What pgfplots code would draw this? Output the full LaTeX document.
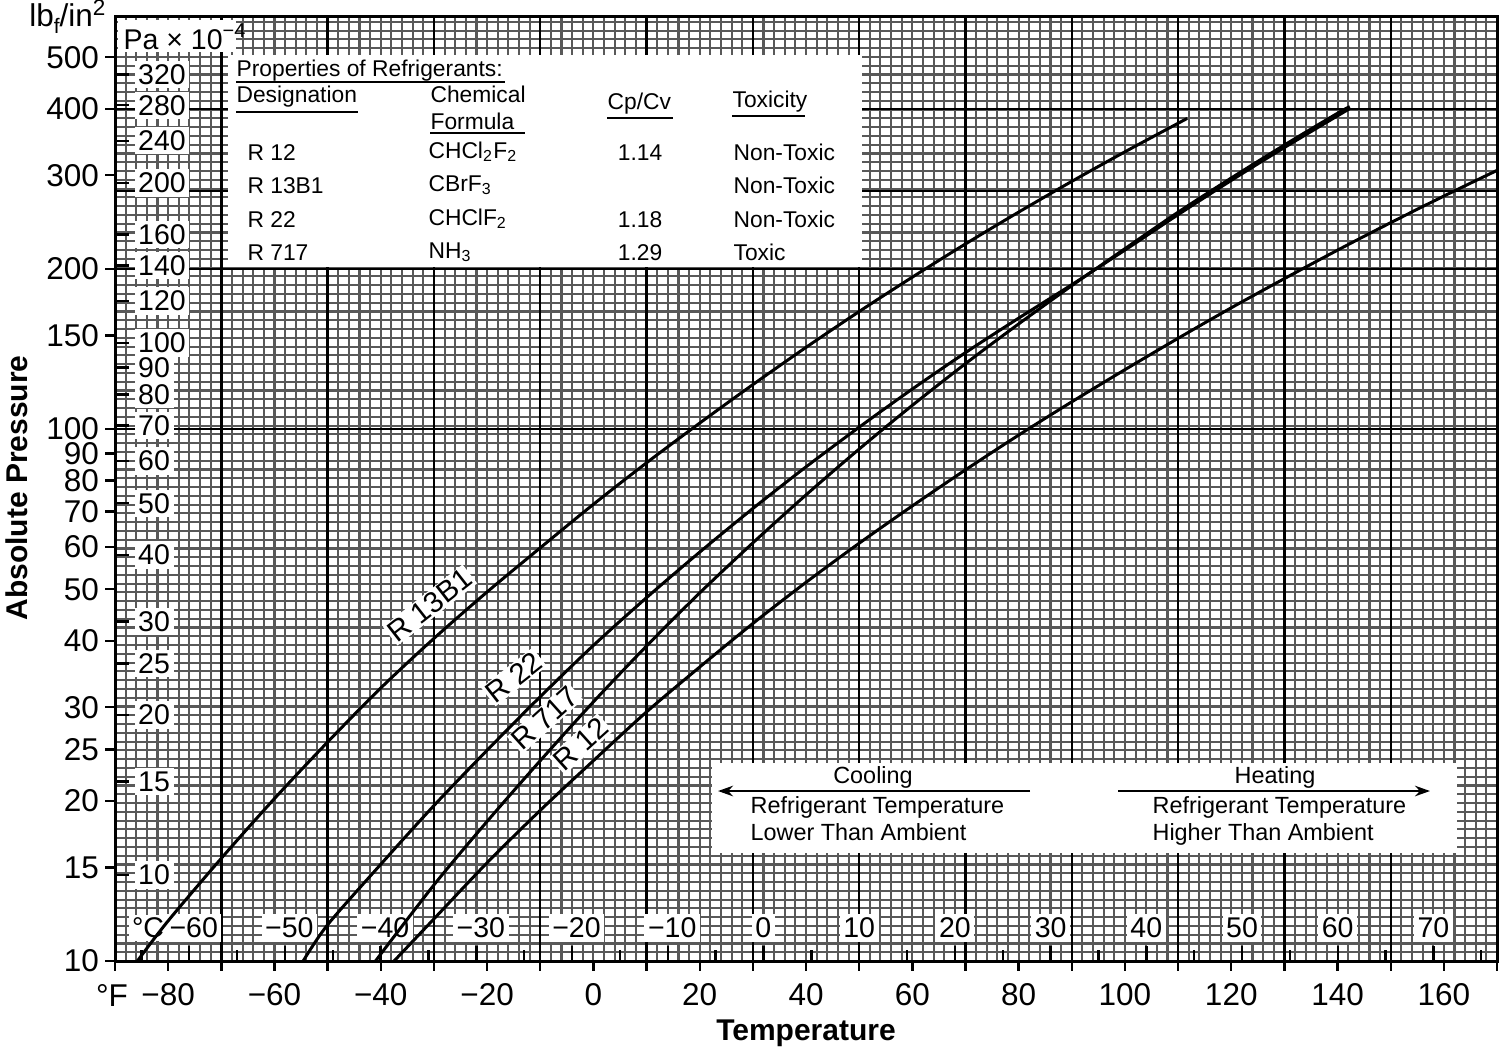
\documentclass[border=0pt]{standalone}
\usepackage{fontspec}
\setmainfont{Liberation Sans}
\usepackage{pgfplots}
\pgfplotsset{compat=1.18}
\usetikzlibrary{arrows.meta}

\newcommand{\tabfont}{\fontsize{7.6}{9}\selectfont}
\newcommand{\tickfont}{\fontsize{10.5}{12}\selectfont}

\begin{document}
\begin{tikzpicture}
% ---------------- background grid (linear axis in log10 p) ----------------
\begin{axis}[at={(0,0)},anchor=south west,scale only axis,
  width=460.667pt,height=314.667pt,
  xmin=-90,xmax=170,ymin=1,ymax=2.77452,
  xtick={-90,-88,...,170},ytick={1,1.0165,...,2.78},
  xticklabels={},yticklabels={},major tick length=0pt,
  axis line style={draw=none},
  grid=major,major grid style={draw=black!65,line width=0.7pt}]
  \pgfplotsinvokeforeach{-70,-50,-30,-10,10,30,50,70,90,110,130,150}{
    \draw[black,line width=0.8pt] (axis cs:#1,1) -- (axis cs:#1,2.77452);}
  \pgfplotsinvokeforeach{2,2.30103,2.44716,2.60206}{
    \draw[black,line width=0.8pt] (axis cs:-90,#1) -- (axis cs:170,#1);}
\end{axis}

% ---------------- annotations in reference pixel coordinates ----------------
\begin{scope}[shift={(-38.3333pt,320.3333pt)},x=0.333333pt,y=-0.333333pt]
  % Pa x 10^-4 box
  \fill[white] (118,20) rectangle (236,52);
  \node[anchor=west,inner sep=0pt,font=\fontsize{9.5}{11}\selectfont] at (123,37) {Pa × 10\textsuperscript{−4}};
  % Pa labels and ticks
  \foreach \lab/\yy in {10/875.1,15/781.4,20/714.9,25/663.4,30/621.3,40/554.8,50/503.2,60/461.1,70/425.5,80/394.6,90/367.4,100/343.1,120/301.0,140/265.4,160/234.5,200/182.9,240/140.8,280/105.2,320/74.4}{
    \node[anchor=west,fill=white,inner sep=1.2pt,font=\fontsize{9.5}{11}\selectfont] at (134,\yy) {\lab};
    \draw[black,line width=0.8pt] (115,\yy) -- (129,\yy);
  }
  % Celsius ticks
  \foreach \xx in {189.2,284.9,380.6,476.3,572.0,667.7,763.4,859.2,954.9,1050.6,1146.3,1242.0,1337.7,1433.4}{
    \draw[black,line width=0.8pt] (\xx,961) -- (\xx,946);}
  \foreach \xx in {141.4,237.1,332.8,428.5,524.2,619.9,715.6,811.3,907.0,1002.7,1098.4,1194.1,1289.8,1385.5,1481.2}{
    \draw[black,line width=0.8pt] (\xx,961) -- (\xx,950);}
  % Celsius labels
  \foreach \lab/\xx in {−60/193.7,−50/289.4,−40/385.1,−30/480.8,−20/576.5,−10/672.2}{
    \node[fill=white,inner sep=1.2pt,font=\fontsize{9.5}{11}\selectfont] at (\xx,928) {\lab};}
  \foreach \lab/\xx in {0/763.4,10/859.2,20/954.9,30/1050.6,40/1146.3,50/1242.0,60/1337.7,70/1433.4}{
    \node[fill=white,inner sep=1.2pt,font=\fontsize{9.5}{11}\selectfont] at (\xx,928) {\lab};}
  \node[fill=white,inner sep=1pt,font=\fontsize{9.5}{11}\selectfont] at (148,928) {°C};

  % properties table
  \fill[white] (228,55) rectangle (862,267);
  \begin{scope}[font=\tabfont]
    \node[anchor=base west,inner sep=0pt] at (236,76) {Properties of Refrigerants:};
    \node[anchor=base west,inner sep=0pt] at (236,102) {Designation};
    \node[anchor=base west,inner sep=0pt] at (430,102) {Chemical};
    \node[anchor=base west,inner sep=0pt] at (430,129) {Formula};
    \node[anchor=base west,inner sep=0pt] at (607,109) {Cp/Cv};
    \node[anchor=base west,inner sep=0pt] at (732,107) {Toxicity};
    \draw[line width=0.6pt] (236,82) -- (505,82);
    \draw[line width=0.6pt] (236,112) -- (358,112);
    \draw[line width=0.6pt] (430,133) -- (525,133);
    \draw[line width=0.6pt] (607,118) -- (673,118);
    \draw[line width=0.6pt] (732,116) -- (805,116);
    \node[anchor=base west,inner sep=0pt] at (247,160) {R 12};
    \node[anchor=base west,inner sep=0pt] at (247,193) {R 13B1};
    \node[anchor=base west,inner sep=0pt] at (247,227) {R 22};
    \node[anchor=base west,inner sep=0pt] at (247,260) {R 717};
    \node[anchor=base west,inner sep=0pt] at (428,158) {CHCl\textsubscript{2}F\textsubscript{2}};
    \node[anchor=base west,inner sep=0pt] at (428,191) {CBrF\textsubscript{3}};
    \node[anchor=base west,inner sep=0pt] at (428,225) {CHClF\textsubscript{2}};
    \node[anchor=base west,inner sep=0pt] at (428,258) {NH\textsubscript{3}};
    \node[anchor=base,inner sep=0pt] at (640,160) {1.14};
    \node[anchor=base,inner sep=0pt] at (640,227) {1.18};
    \node[anchor=base,inner sep=0pt] at (640,260) {1.29};
    \node[anchor=base west,inner sep=0pt] at (733,160) {Non-Toxic};
    \node[anchor=base west,inner sep=0pt] at (733,193) {Non-Toxic};
    \node[anchor=base west,inner sep=0pt] at (733,227) {Non-Toxic};
    \node[anchor=base west,inner sep=0pt] at (733,260) {Toxic};
  \end{scope}

  % cooling / heating box
  \fill[white] (712,763) rectangle (1457,853);
  \begin{scope}[font=\fontsize{7.8}{9}\selectfont]
    \node[inner sep=0pt] at (873,777) {Cooling};
    \draw[line width=0.8pt,-{Stealth[length=5pt,width=3.5pt]}] (1030,791) -- (718,791);
    \node[anchor=base west,inner sep=0pt] at (750,813) {Refrigerant Temperature};
    \node[anchor=base west,inner sep=0pt] at (750,840) {Lower Than Ambient};
    \node[inner sep=0pt] at (1275,777) {Heating};
    \draw[line width=0.8pt,-{Stealth[length=5pt,width=3.5pt]}] (1118,791) -- (1430,791);
    \node[anchor=base west,inner sep=0pt] at (1152,813) {Refrigerant Temperature};
    \node[anchor=base west,inner sep=0pt] at (1152,840) {Higher Than Ambient};
  \end{scope}

  % curve labels
  \begin{scope}[font=\fontsize{9.8}{12}\selectfont]
    \node[fill=white,inner sep=0.5pt,rotate=38] at (430,605) {R 13B1};
    \node[fill=white,inner sep=0.5pt,rotate=38] at (514,677) {R 22};
    \node[fill=white,inner sep=0.5pt,rotate=42] at (545,718) {R 717};
    \node[fill=white,inner sep=0.5pt,rotate=42] at (581,744) {R 12};
  \end{scope}

  % outer texts
  \node[anchor=base east,inner sep=0pt,font=\fontsize{10.5}{12}\selectfont] at (106,26)
    {lb\raisebox{-0.25em}{\fontsize{7}{8}\selectfont f}/in\raisebox{0.32em}{\fontsize{7.5}{8}\selectfont 2}};
  \node[rotate=90,font=\bfseries\fontsize{10}{12}\selectfont] at (17,488) {Absolute Pressure};
  \node[font=\bfseries\fontsize{10}{12}\selectfont] at (806,1033) {Temperature};
  \node[font=\tickfont] at (112,995) {°F};
\end{scope}

% ---------------- main axis with curves ----------------
\begin{axis}[at={(0,0)},anchor=south west,scale only axis,
  width=460.667pt,height=314.667pt,
  xmin=-90,xmax=170,ymode=log,ymin=10,ymax=595,
  axis line style={line width=1pt},
  xtick={-80,-60,-40,-20,0,20,40,60,80,100,120,140,160},
  xticklabels={−80,−60,−40,−20,0,20,40,60,80,100,120,140,160},
  extra x ticks={-90,-70,-50,-30,-10,10,30,50,70,90,110,130,150,170},
  extra x tick labels={},
  ytick={10,15,20,25,30,40,50,60,70,80,90,100,150,200,300,400,500},
  yticklabels={10,15,20,25,30,40,50,60,70,80,90,100,150,200,300,400,500},
  minor y tick style={draw=none},
  xtick pos=bottom,ytick pos=left,
  tick align=outside,major tick length=3.3pt,
  tick style={black,line width=0.8pt},
  ticklabel style={font=\tickfont},
  xticklabel style={yshift=-0.7pt},
  yticklabel style={xshift=1.5pt}]
  % R 13B1
  \addplot[black,line width=1pt,smooth] coordinates {
    (-85.8,10.0) (-80,11.9) (-70,15.6) (-60,20.2) (-50,25.8) (-40,32.6) (-30,40.4)
    (-20,49.4) (-10,59.8) (0,72.2) (10,86.4) (20,102.6) (30,121.2) (40,142.4)
    (50,166.3) (60,193.0) (70,222.8) (80,255.7) (90,292.1) (100,332.0) (111.7,383.6)};
  % R 22
  \addplot[black,line width=1pt,smooth] coordinates {
    (-54.6,10.0) (-50,11.7) (-40,15.2) (-30,19.6) (-20,24.9) (-10,31.4) (0,39.2)
    (10,48.2) (20,58.7) (30,70.9) (40,84.9) (50,100.8) (60,118.9) (70,139.2)
    (80,161.6) (90,186.8) (100,217.0) (110,252.9) (120,293.3) (130,338.2) (140,388.0) (142.3,400.3)};
  % R 717
  \addplot[black,line width=1pt,smooth] coordinates {
    (-41,10.0) (-30,13.9) (-20,18.3) (-10,23.8) (0,30.7) (10,39.1) (20,49.2)
    (30,61.1) (40,75.2) (50,91.7) (60,110.8) (70,132.7) (80,157.6) (90,186.0)
    (100,218.3) (110,255.6) (120,296.4) (130,341.9) (140,392.4) (142.3,403.6)};
  % R 12
  \addplot[black,line width=1pt,smooth] coordinates {
    (-37.5,10.0) (-30,12.0) (-20,15.3) (-10,19.2) (0,23.8) (10,29.4) (20,35.7)
    (30,43.1) (40,51.5) (50,61.0) (60,71.7) (70,83.8) (80,97.4) (90,112.5)
    (100,129.3) (110,148.1) (120,169.0) (130,191.8) (140,216.9) (150,244.3)
    (160,274.1) (170,306.3)};
\end{axis}

\pgfresetboundingbox
\begin{scope}[shift={(-38.3333pt,320.3333pt)},x=0.333333pt,y=-0.333333pt]
  \useasboundingbox (0,0) rectangle (1500,1054);
\end{scope}
\end{tikzpicture}
\end{document}
